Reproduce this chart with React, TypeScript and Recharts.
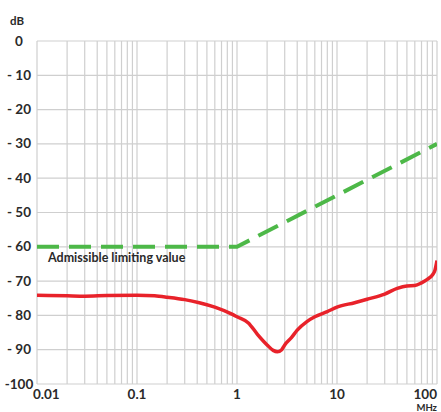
import React from 'react';
import { CartesianGrid, Line, LineChart, XAxis, YAxis } from 'recharts';

// measured attenuation curve (MHz / dB)
const curveFreq = [
  0.01, 0.02, 0.03, 0.05, 0.1, 0.15, 0.2, 0.3, 0.42, 0.6, 0.9, 1, 1.3, 1.6, 2,
  2.3, 2.53, 2.8, 3, 3.5, 4, 5, 6, 8, 10, 15, 20, 30, 40, 50, 60, 70, 80, 90,
  95, 100,
];
const curveDb = [
  -74.1, -74.3, -74.4, -74.2, -74.1, -74.3, -74.7, -75.4, -76.3, -77.6, -79.7,
  -80.4, -82.2, -85.5, -88.6, -90.2, -90.6, -90, -88.6, -86.5, -84.3, -81.8,
  -80.4, -78.9, -77.6, -76.3, -75.3, -73.8, -72.1, -71.4, -71.3, -70.5, -69.5,
  -68.2, -67, -64,
];

// admissible limiting value
const limitFreq = [0.01, 1, 100];
const limitDb = [-60, -60, -30];

const decades = [0.01, 0.1, 1, 10];
const decadeLabels = ['0.01', '0.1', '1', '10', '100'];
const yTicks = [0, -10, -20, -30, -40, -50, -60, -70, -80, -90, -100];

const xTicks = [
  ...decades.flatMap((d) => [1, 2, 3, 4, 5, 6, 7, 8, 9].map((m) => +(m * d).toPrecision(3))),
  100,
];

const curve = curveFreq.map((f, i) => ({ f, db: curveDb[i] }));
const limit = limitFreq.map((f, i) => ({ f, db: limitDb[i] }));

const font = 'Lato, "Open Sans", sans-serif';
const ink = '#2a2a2a';

const XTick = (props: any) => {
  const v = props.payload.value;
  const idx = [0.01, 0.1, 1, 10, 100].indexOf(v);
  if (idx < 0) return null;
  let anchor = 'middle';
  let dx = 0;
  if (idx === 0) { anchor = 'start'; dx = -4; }
  if (idx === 4) { anchor = 'end'; dx = 0; }
  return (
    <text x={props.x + dx} y={395} dy={4} textAnchor={anchor} fill={ink}
      fontFamily={font} fontWeight={700} fontSize={13.5}>
      {decadeLabels[idx]}
    </text>
  );
};

const YTick = (props: any) => {
  const v = props.payload.value;
  const label = v === 0 ? '0' : v === -100 ? '-100' : '- ' + Math.abs(v);
  return (
    <text x={19} y={props.y} dy={4.5} textAnchor="middle" fill={ink}
      fontFamily={font} fontWeight={700} fontSize={13.5}>
      {label}
    </text>
  );
};

export default function App() {
  return (
    <div style={{ position: 'absolute', left: 0, top: 0, width: 441, height: 412 }}>
      <LineChart width={441} height={412} margin={{ top: 41, right: 4, left: 0, bottom: 0 }}>
        <CartesianGrid stroke="#cfcfcf" strokeWidth={1.2} />
        <XAxis dataKey="f" type="number" scale="log" domain={[0.01, 100]}
          ticks={xTicks} interval={0} height={28} axisLine={false} tickLine={false}
          tick={<XTick />} allowDataOverflow />
        <YAxis type="number" domain={[-100, 0]} ticks={yTicks} interval={0} width={37}
          axisLine={false} tickLine={false} tick={<YTick />} />
        <Line data={limit} dataKey="db" type="linear" stroke="#4db848" strokeWidth={4}
          strokeDasharray="22 10" dot={false} isAnimationActive={false} />
        <Line data={curve} dataKey="db" type="monotone" stroke="#e8222a" strokeWidth={3.5}
          dot={false} isAnimationActive={false} />
        <text x={10} y={25} fill={ink} fontFamily={font} fontWeight={700} fontSize={11.5}>dB</text>
        <text x={48} y={262} fill={ink} fontFamily={font} fontWeight={700} fontSize={12.5}>
          Admissible limiting value
        </text>
        <text x={437} y={411} textAnchor="end" fill={ink} fontFamily={font} fontWeight={700} fontSize={9.5}>
          MHz
        </text>
      </LineChart>
    </div>
  );
}
